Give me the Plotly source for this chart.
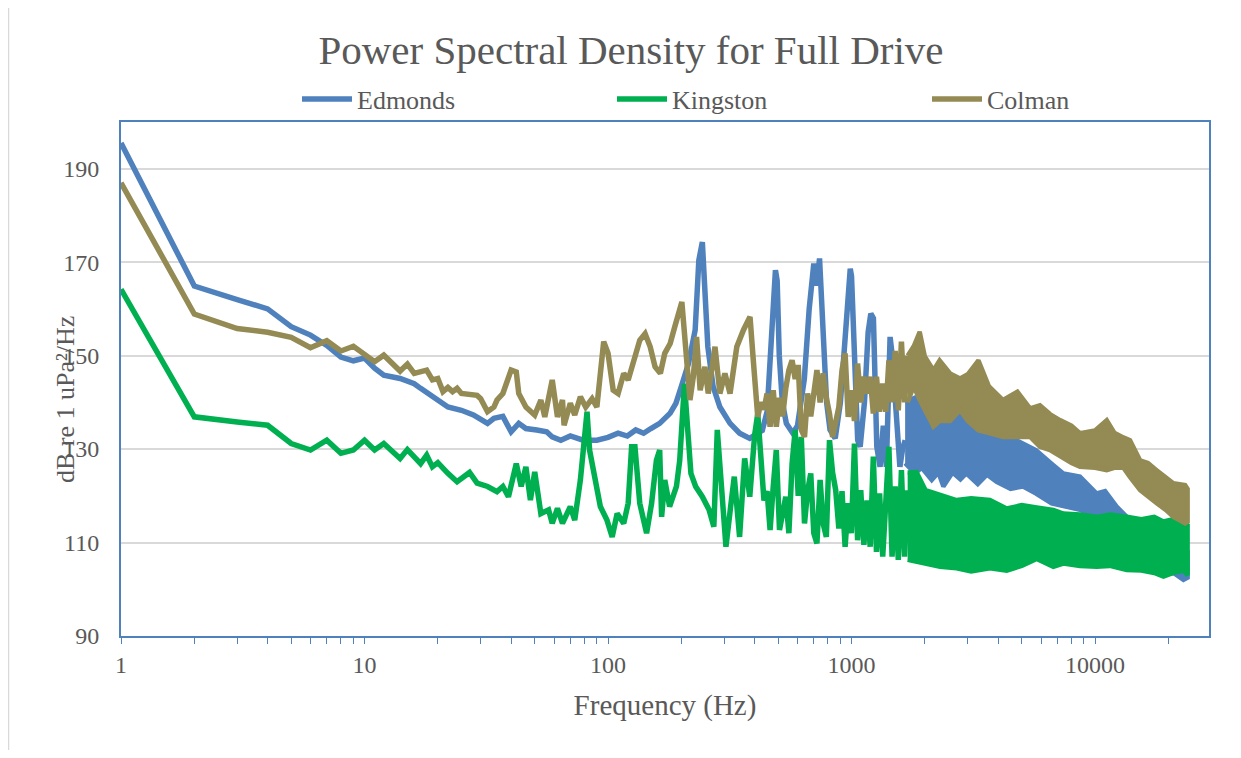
import plotly.graph_objects as go

# ---------------- data ----------------
# Edmonds: line part (Hz, dB)
ED_F = [1,2,3,4,5,6,7,8,9,10, 11,12,14,16,17,19,21,22,25,28, 32,34,37,40,43,46,51,56,59,64,
        70,79,90,100,110,120,130,140,150,163, 180,190,200,214,228,236,244,250,257,270,
        288,317,347,382,410,430,450,465,475,487, 495,505,520,540,574,600,640,670,700,720,
        739,760,790,816,857,900,940,975,988,1000, 1030,1060,1085,1130,1170,1200,1230,1250,1270,1310,
        1350,1390,1420,1440,1470,1500,1540,1580,1620,1660]
ED_V = [195.5,164.9,162,160,156.2,154.4,152.2,149.7,148.9,149.5, 147.3,145.8,145.1,144,143,141.2,139.8,139,138.3,137.3,
        135.5,136.6,137,133.7,135.5,134.4,134.1,133.7,132.6,131.9, 132.8,131.9,131.9,132.5,133.4,132.8,134.1,133.4,134.4,135.5,
        137.7,139.8,143.4,148.3,155.5,170.4,174.3,162.6,151.9,143.4, 139,135.5,133.4,132.3,133.4,134,138,150,160,168.3,
        166,150,140,135.5,133.4,135,145,160,169.7,165, 170.8,158,140,134.1,132.3,140,155,166,168.6,167,
        150,131.9,130.5,140,155,159,158,145,130.5,126.2, 135,126.2,140,154,150,141.9,132,126.2,130,131.9]
# Edmonds: dense high-frequency band (upper / lower envelope)
EDB_F = [1660,1823,1942,2135,2274,2383,2600,2800,2960,3300, 3600,3940,4500,5060,5720,6630,7410,8670,10160,11000,
         12270,13920,15500,17000,19100,21000,23060,24000]
EDB_HI = [140,141,140,137,138,136,137,138,137.5,136.9, 134,134,132.5,131.2,129.8,126.9,124.8,124.1,120.5,121,
          117.7,114.8,113,112,111,110,109,108]
EDB_LO = [127,124.8,126,123.4,125,122,125,123.5,124.8,122.5, 124.5,123,121.5,122,120.5,118.4,117.8,117,115.5,114,
          112,109,106,104.8,103.4,103.5,102,102.5]

# shared frequency grid of the densely oscillating middle range (Hz)
MID_F = [400,412,424,437,450,463,477,491,506,521, 537,553,570,587,604,622,641,660,680,700,
         721,743,765,788,812,836,861,887,914,941, 969,998,1028,1059,1091,1124,1158,1193,1229,1266,
         1304,1343,1383,1424,1467,1511,1556,1603,1651,1700]

# Kingston
KI_F = [1,2,3,4,5,6,7,8,9,10, 11,12,14,15,17,18,19,20,22,24, 27,29,32,35,37,39,42,44,46,48,
        50,53,57,59,62,65,70,73,77,82, 84,89,93,99,104,109,116,121,125,129,
        135,144,151,158,163,166,171,179,191,197, 206,212,219,229,244,260,272,281,290,305,
        320,330,347,364,382]
KI_V = [164.2,136.9,135.8,135.1,131.2,129.8,131.9,129.1,129.8,131.9, 129.8,131.2,128,129.9,126.9,128.7,126.2,127.1,124.8,123,
        125,122.7,122,120.9,122,119.8,126.9,122,126.2,119.1, 125.1,116.2,117,114.1,117.3,114.1,117.7,114.8,123.4,138,
        129.8,122.7,117.7,114.8,111.2,116.2,114.1,118.4,130.5,130.5, 118.4,112,118.4,127.6,129.8,115.5,123.4,117.7,122,127.6,
        144,134.8,124.8,122,119.8,117,113.4,134.1,123.4,109.1, 118.4,124.1,111.2,128,119.8]
KI_MID = [133,137.6,127,119,121,112.7,122,129.8,112.7,117, 119.8,112,126.9,134.1,120,132.6,114.1,121,124.8,112,
          109.8,123.4,114,111.2,131.9,125,121.2,113,121,109.1, 118.4,112,131.2,110.5,121.2,109.5,119,109.1,128.4,108,
          120.5,107,118,130.5,107,122,106.3,125.5,107,121.2]
KIB_F = [1700,1850,2015,2310,2700,3100,3700,4340,5000,5760, 6740,7410,8670,10160,11500,13490,15500,17500,19100,21000,
         23060,24000]
KIB_HI = [125,125.1,121.2,120.2,119.1,119.5,119.1,117.3,118,117.5, 117,116.2,116,115.5,116,115.5,115,115.5,114.5,115,
          114.1,113.7]
KIB_LO = [106.3,106,105.5,104.8,104.5,103.8,104.5,104,105,106.5, 104.8,105.5,105,104.8,105,104.1,104,103.5,102.7,103.5,
          104,103]

# Colman
CO_F = [1,2,3,4,5,6,7,8,9,10, 11,12,14,15,16,18,19,20,21,22, 23,24,25,29,30,32,34,35,37,40,
        42,43,46,50,53,55,59,62,65,66, 70,73,77,81,86,90,96,100,105,110,
        116,121,127,135,142,149,156,164,171,180, 188,201,211,217,224,231,239,250,258,275,
        288,302,317,338,360,383,395]
CO_V = [187,158.9,155.8,155,153.9,151.7,153.2,151,152,150.1, 148.7,150.1,146.7,148.2,146.2,146.9,144.8,145.1,142.3,143.2,
        142.3,143,141.9,141.5,140.8,138,139,140.5,141.9,146.9, 146.5,141.9,139,137.3,140.5,136.9,144.8,136.9,140.5,135.1,
        139.8,137.3,141.2,139,140.8,139,153,150.5,142.6,141.9, 146.2,144.8,148.3,153.3,154.7,151.9,147.6,146.2,150.5,152.6,
        156.2,161.5,148.3,140.5,145.5,154,142.6,147.6,141.9,151.9, 141.9,146.2,141.9,151.9,155.5,158.3,149]
CO_MID = [144,136.9,140,138.5,141.9,134.8,142.6,134.8,141,137, 143,146.9,149,145,148,134.1,132.6,141.9,137,143,
          146.9,140,146.2,141,137.6,132.6,136,139,146.9,150.5, 136.9,142.6,136,148.3,140,145.5,141.9,145.5,137.6,145.5,
          138,144,138,149,140,151,138.3,153,140,150]
COB_F = [1700,1800,1905,2000,2170,2300,2540,2790,3000,3320, 3670,4190,4800,5410,5940,6530,7180,8000,8670,10000,
         11170,12000,13070,13920,15310,16500,17900,19500,20980,23440, 24000]
COB_HI = [150,152,155.1,149.8,146.9,149,146.2,145.1,146,149, 143.4,140.5,142.3,138.7,139.4,137.5,136.2,135,133.4,134,
          136.2,133.5,132.5,131.9,127.6,127,125.5,124,122.7,122.3, 121.5]
COB_LO = [140,143.4,140.5,138.3,134.8,136,136,138.3,136,134, 133.4,132.6,132.6,132.6,130.5,129.8,128.5,127,126.2,126,
          125.5,126,126,124,121.2,120,118.4,117,115.5,114.1, 114.5]

X_TICKS = [1, 10, 100, 1000, 10000]
X_TICK_TEXT = ["1", "10", "100", "1000", "10000"]
Y_TICKS = [90, 110, 130, 150, 170, 190]

# ---------------- style ----------------
BLUE = "#4F81BD"
GREEN = "#00B050"
TAN = "#948A54"
TXT = "#595959"
FONT = "Liberation Serif"
GRID = "#D9D9D9"
LW = 5.5

# page has an 8px body margin; figure coordinates below account for it
W, H = 1225, 742
ML, MT = 113, 114
PW, PH = 1088, 514

fig = go.Figure()


def add_series(name, color, f, v, bf, hi, lo, legend):
    fig.add_trace(go.Scatter(x=f, y=v, mode="lines", name=name, legendgroup=name, legend=legend,
                             line=dict(color=color, width=LW)))
    fig.add_trace(go.Scatter(x=bf + bf[::-1], y=hi + lo[::-1], mode="lines", fill="toself",
                             fillcolor=color, line=dict(color=color, width=4.5), legend=legend,
                             showlegend=False, legendgroup=name, hoverinfo="skip"))


add_series("Edmonds", BLUE, ED_F, ED_V, EDB_F, EDB_HI, EDB_LO, "legend")
add_series("Kingston", GREEN, KI_F + MID_F, KI_V + KI_MID, KIB_F, KIB_HI, KIB_LO, "legend2")
add_series("Colman", TAN, CO_F + MID_F, CO_V + CO_MID, COB_F, COB_HI, COB_LO, "legend3")

minor_vals = [m * 10 ** d for d in range(5) for m in range(2, 10) if m * 10 ** d < 29000]


def legend_at(page_left):
    return dict(orientation="h", x=(page_left - 8 - ML) / PW, xanchor="left",
                y=(MT + PH - 91) / PH, yanchor="middle", itemwidth=50,
                font=dict(size=26, color=TXT, family=FONT), bgcolor="rgba(0,0,0,0)")


fig.update_layout(
    width=W, height=H,
    margin=dict(l=ML, r=W - ML - PW, t=MT, b=H - MT - PH),
    paper_bgcolor="white", plot_bgcolor="white",
    font=dict(family=FONT, color=TXT),
    title=dict(text="Power Spectral Density for Full Drive", x=623 / W, xanchor="center",
               y=1 - 42 / H, yanchor="middle", font=dict(size=41, color=TXT, family=FONT)),
    legend=legend_at(297), legend2=legend_at(612), legend3=legend_at(927),
    showlegend=True,
)

fig.update_xaxes(type="log", range=[0, 4.468], tickmode="array", tickvals=X_TICKS, ticktext=X_TICK_TEXT,
                 ticks="outside", ticklen=6, tickwidth=1, tickcolor=BLUE,
                 showline=True, linecolor=BLUE, linewidth=2, mirror=True, showgrid=False, zeroline=False,
                 tickfont=dict(size=24, color=TXT, family=FONT), ticklabelstandoff=0,
                 minor=dict(tickmode="array", tickvals=minor_vals, ticks="outside", ticklen=6,
                            tickwidth=1, tickcolor=BLUE, showgrid=False),
                 title=dict(text="Frequency (Hz)", font=dict(size=29, color=TXT, family=FONT), standoff=18))

fig.update_yaxes(range=[90, 200], tickmode="array", tickvals=Y_TICKS, ticks="",
                 showline=True, linecolor=BLUE, linewidth=2, mirror=True,
                 showgrid=True, gridcolor=GRID, gridwidth=2, zeroline=False,
                 tickfont=dict(size=24, color=TXT, family=FONT), ticklabelstandoff=15)

fig.add_annotation(text="dB re 1 uPa²/Hz", textangle=-90, xref="paper", yref="paper",
                   x=(57 - ML) / PW, y=(MT + PH - 392) / PH, xanchor="center", yanchor="middle",
                   showarrow=False, font=dict(size=26, color=TXT, family=FONT))

fig.add_shape(type="line", xref="paper", yref="paper", x0=(0.5 - ML) / PW, x1=(0.5 - ML) / PW,
              y0=(MT + PH - H) / PH, y1=(MT + PH) / PH, line=dict(color=GRID, width=1.5))

fig.write_html("out.html")
